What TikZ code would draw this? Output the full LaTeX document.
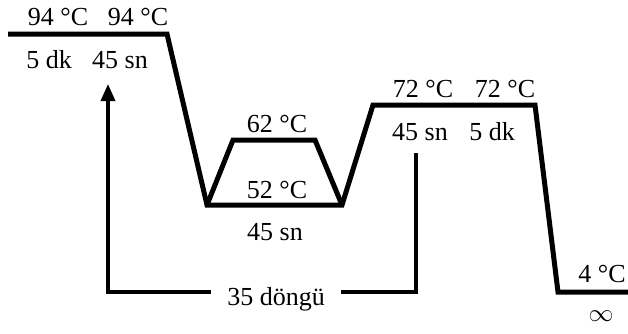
\documentclass[tikz,border=0pt]{standalone}
\usepackage{fontspec}
\setmainfont{Liberation Serif}
\usetikzlibrary{arrows.meta}

\begin{document}
\begin{tikzpicture}[x=1pt,y=-1pt,
    profile/.style={line width=5pt,line join=miter},
    cycle/.style={line width=3.5pt},
    lbl/.style={anchor=base,inner sep=0pt,font=\fontsize{26}{30}\selectfont}]
        \useasboundingbox (0,0) rectangle (628,333);
        % temperature profile
        \coordinate (s0) at (8,34);
        \coordinate (s1) at (167,34);
        \coordinate (a0) at (207,205);
        \coordinate (a1) at (233,140);
        \coordinate (a2) at (315,140);
        \coordinate (a3) at (342,205);
        \coordinate (e0) at (373,105);
        \coordinate (e1) at (535,105);
        \coordinate (h0) at (558,292);
        \coordinate (h1) at (628,292);
        \draw[profile] (s0) -- (s1) -- (a0) -- (a3) -- (e0) -- (e1) -- (h0) -- (h1);
        \draw[profile] (a0) -- (a1) -- (a2) -- (a3);
        % labels
        \node[lbl] (t1) at (58,25) {94 °C};
        \node[lbl] (t2) at (138,25) {94 °C};
        \node[lbl] (d1) at (49,68) {5 dk};
        \node[lbl] (d2) at (120,68) {45 sn};
        \node[lbl] (t3) at (277,132) {62 °C};
        \node[lbl] (t4) at (277,198) {52 °C};
        \node[lbl] (d3) at (275,240) {45 sn};
        \node[lbl] (t5) at (423,97) {72 °C};
        \node[lbl] (t6) at (505,97) {72 °C};
        \node[lbl] (d4) at (420,140) {45 sn};
        \node[lbl] (d5) at (492,140) {5 dk};
        \node[lbl] (t7) at (602,282) {4 °C};
        \node[lbl] (d6) at (601,321) {$\infty$};
        % cycle loop
        \node[lbl,inner xsep=16pt] (loop) at (276,305) {35 döngü};
        \coordinate (r0) at (416,153);
        \coordinate (l0) at (108,84);
        \draw[cycle] (r0) |- (loop.east |- 0,292);
        \draw[cycle,-{Triangle[length=17pt,width=14pt]}] (loop.west |- 0,292) -| (l0);
\end{tikzpicture}
\end{document}
